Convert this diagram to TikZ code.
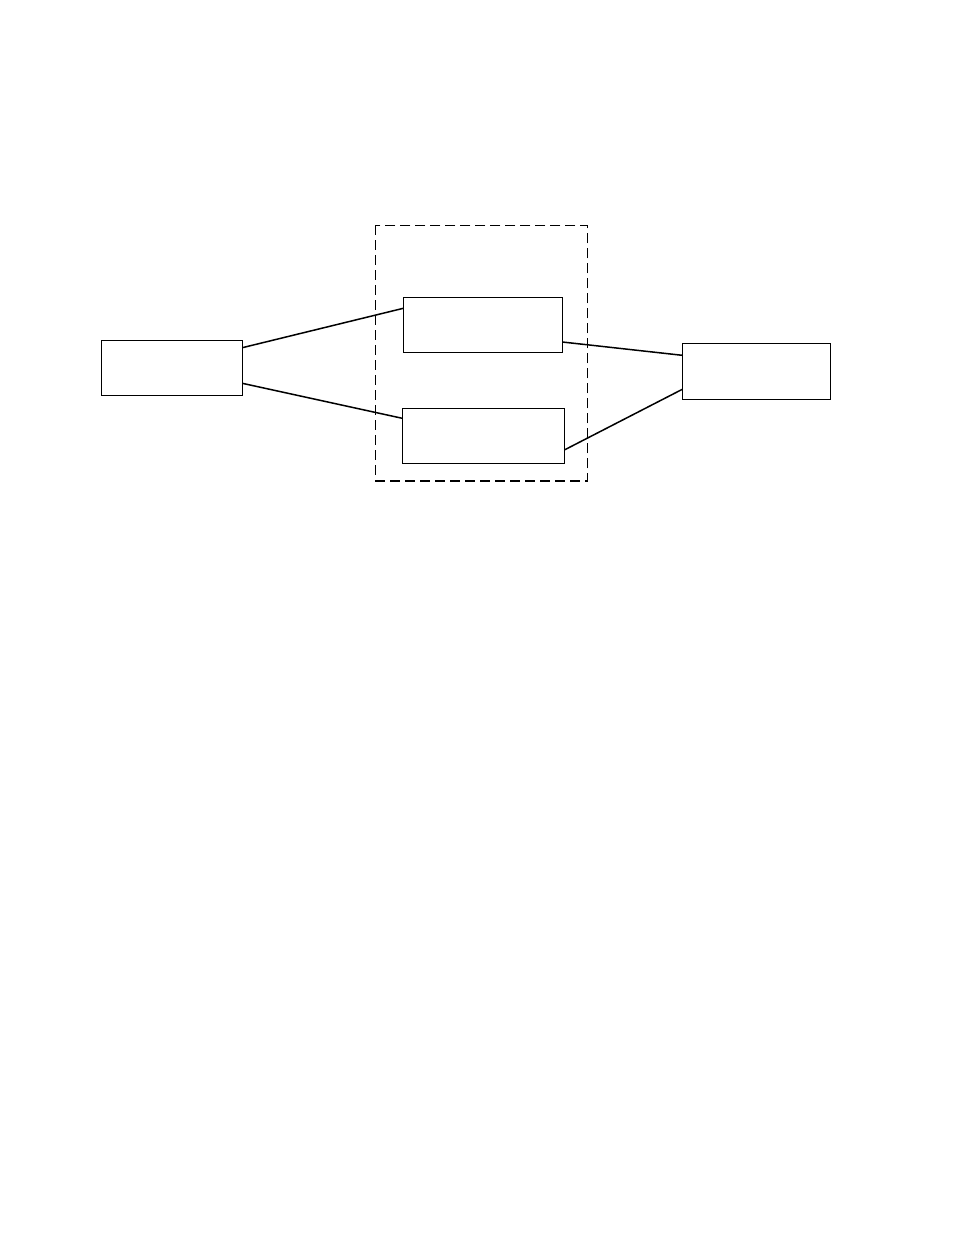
\documentclass[tikz,border=0pt]{standalone}
\begin{document}
\begin{tikzpicture}[x=1pt,y=-1pt,
  boxnode/.style={draw,line width=1pt,inner sep=0pt,outer sep=0pt,anchor=north west},
  link/.style={line width=1.5pt},
  grp/.style={draw,line width=1.2pt,dash pattern=on 10pt off 5pt}]
\useasboundingbox (0,0) rectangle (954,1235);
\draw[grp] (375.7,225.3) rectangle (587.3,481);
\node[boxnode,minimum width=141pt,minimum height=55pt] (L) at (101.3,340.3) {};
\node[boxnode,minimum width=159pt,minimum height=55pt] (T) at (403.3,297.3) {};
\node[boxnode,minimum width=162pt,minimum height=55pt] (B) at (402.3,408.3) {};
\node[boxnode,minimum width=148pt,minimum height=55.7pt] (R) at (682.3,343.3) {};
\draw[link] ([yshift=-7.4pt]L.north east) -- ([yshift=-11pt]T.north west);
\draw[link] ([yshift=12pt]L.south east) -- ([yshift=-10pt]B.north west);
\draw[link] ([yshift=10.3pt]T.south east) -- ([yshift=-12pt]R.north west);
\draw[link] ([yshift=13.3pt]B.south east) -- ([yshift=9.7pt]R.south west);
\end{tikzpicture}
\end{document}
